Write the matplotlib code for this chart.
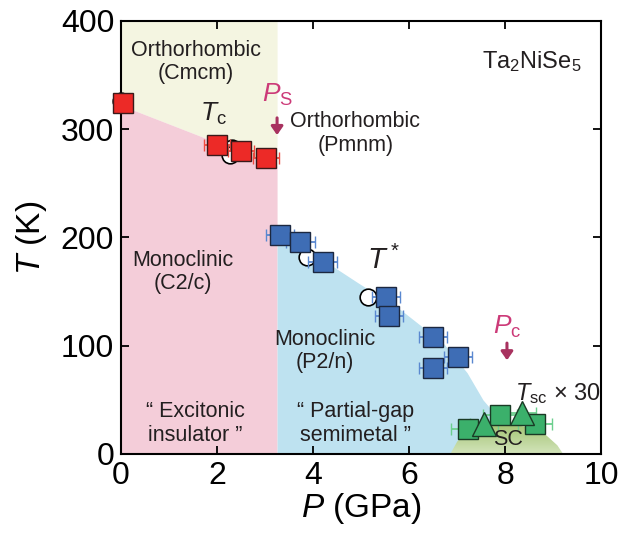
import numpy as np
import matplotlib.pyplot as plt
from matplotlib.colors import LinearSegmentedColormap

plt.rcParams['font.family'] = ['Liberation Sans', 'DejaVu Sans']
plt.rcParams['mathtext.fontset'] = 'custom'
plt.rcParams['mathtext.rm'] = 'Liberation Sans'
plt.rcParams['mathtext.it'] = 'Liberation Sans:italic'

# structural transition T_c (red squares)
p_red = [0.05, 2.0, 2.5, 3.02]
t_red = [324, 285, 280, 273]
pe_red = [0.1, 0.27, 0.27, 0.27]

# T* (blue squares)
p_blue = [3.31, 3.73, 4.2, 5.52, 5.58, 6.5, 7.02, 6.5]
t_blue = [202, 196, 177, 145, 127, 108, 90, 79]
pe_blue = [0.3, 0.3, 0.3, 0.3, 0.3, 0.3, 0.3, 0.3]

# open circles (other measurement)
p_circ = [0.0, 2.32, 2.27, 3.87, 5.15]
t_circ = [326, 283, 276, 182, 145]

# T_sc x 30 (green)
p_gsq = [7.23, 7.89, 8.62]
t_gsq = [23, 36, 28]
pe_gsq = [0.35, 0.35, 0.35]
p_gtri = [7.56, 8.35]
t_gtri = [28, 38]
pe_gtri = [0.3, 0.3]

# phase boundaries
p_s = 3.25
p_c = 8.04
pink_p = [0, p_s]
pink_t = [322, 266]
blue_p = [3.25, 4.25, 4.94, 5.83, 6.72, 7.21, 7.54, 7.83, 8.05, 8.15]
blue_t = [205, 178, 158, 133, 102, 75, 50, 35, 15, 0]
sc_p = [6.86, 7.01, 7.31, 7.7, 8.1, 8.49, 8.84, 9.09, 9.21]
sc_t = [0, 12, 21, 26, 27, 25, 18, 8, 0]

fig = plt.figure(figsize=(6.34, 5.36), dpi=100)
ax = fig.add_axes([0.191, 0.153, 0.757, 0.808])

ax.fill_between([0, p_s], pink_t, 400, color='#f4f5e1', lw=0, zorder=0)
ax.fill_between(pink_p, 0, pink_t, color='#f4cdd9', lw=0, zorder=0)
ax.fill_between(blue_p, 0, blue_t, color='#bee2f0', lw=0, zorder=0)
dome = ax.fill_between(sc_p, 0, sc_t, color='none', lw=0, zorder=1)
green = LinearSegmentedColormap.from_list('g', ['#d3e4bb', '#a3c473'])
grad = ax.imshow(np.linspace(0, 1, 64).reshape(-1, 1), cmap=green, origin='lower',
                 aspect='auto', extent=[min(sc_p), max(sc_p), 0, max(sc_t)], zorder=1)
grad.set_clip_path(dome.get_paths()[0], transform=ax.transData)

ax.plot(p_circ, t_circ, 'o', ms=12, mfc='white', mec='black', mew=1.2, zorder=2,
        clip_on=False)

eb = dict(mew=1, elinewidth=1.3, capsize=4, capthick=1.3, zorder=3)
for p, t, pe, mk, fc, ec, bc in [
        (p_red, t_red, pe_red, 's', '#ec2a27', '#3a1a1a', '#f04a40'),
        (p_blue, t_blue, pe_blue, 's', '#3e6db5', '#1c2840', '#5a88d0'),
        (p_gsq, t_gsq, pe_gsq, 's', '#3bb06b', '#1a3a25', '#6ccf8e'),
        (p_gtri, t_gtri, pe_gtri, '^', '#3bb06b', '#1a3a25', '#6ccf8e')]:
    res = ax.errorbar(p, t, xerr=pe, fmt=mk, ms=17 if mk == '^' else 15,
                      mfc=fc, mec=ec, ecolor=bc, **eb)
    res.lines[0].set_clip_on(False)

txt = dict(ha='center', va='center', fontsize=15.5, color='#231f20', linespacing=1.15)
ax.text(1.56, 362, 'Orthorhombic\n(Cmcm)', **txt)
ax.text(4.88, 296, 'Orthorhombic\n(Pmnm)', **txt)
ax.text(1.29, 168, 'Monoclinic\n(C2/c)', **txt)
ax.text(4.25, 95, 'Monoclinic\n(P2/n)', **txt)
ax.text(1.54, 28, '\u201c Excitonic\ninsulator \u201d', **txt)
ax.text(4.88, 28, '\u201c Partial-gap\nsemimetal \u201d', **txt)
ax.text(8.07, 13, 'SC', **txt)
ax.text(8.56, 362, r'Ta$_2$NiSe$_5$', ha='center', va='center', fontsize=17,
        color='#231f20')

ax.text(1.92, 314, r'$T_{\rm c}$', ha='center', va='center', fontsize=19, color='#231f20')
ax.text(5.46, 179, r'$T^*$', ha='center', va='center', fontsize=21, color='#231f20')
ax.text(9.1, 56, r'$T_{\rm sc}$ × 30', ha='center', va='center', fontsize=17, color='#231f20')
ax.text(p_s, 332, r'$P_{\rm S}$', ha='center', va='center', fontsize=19, color='#cc3a78')
ax.text(p_c, 117, r'$P_{\rm c}$', ha='center', va='center', fontsize=19, color='#cc3a78')
arrow = dict(arrowstyle='-|>,head_length=0.5,head_width=0.35', color='#a8325f', lw=2.2)
ax.annotate('', xy=(p_s, 292), xytext=(p_s, 313), arrowprops=arrow)
ax.annotate('', xy=(p_c, 84), xytext=(p_c, 105), arrowprops=arrow)

ax.set_xlim(0, 10)
ax.set_ylim(0, 400)
ax.set_xticks([0, 2, 4, 6, 8, 10])
ax.set_yticks([0, 100, 200, 300, 400])
ax.tick_params(direction='in', length=6, width=1.3, top=True, right=True,
               labelsize=23, pad=5)
for s in ax.spines.values():
    s.set_linewidth(1.5)
ax.set_xlabel(r'$P$ (GPa)', fontsize=24, labelpad=0)
ax.set_ylabel(r'$T$ (K)', fontsize=24)
ax.yaxis.set_label_coords(-0.15, 0.5)

fig.savefig('out.png', dpi=100)
